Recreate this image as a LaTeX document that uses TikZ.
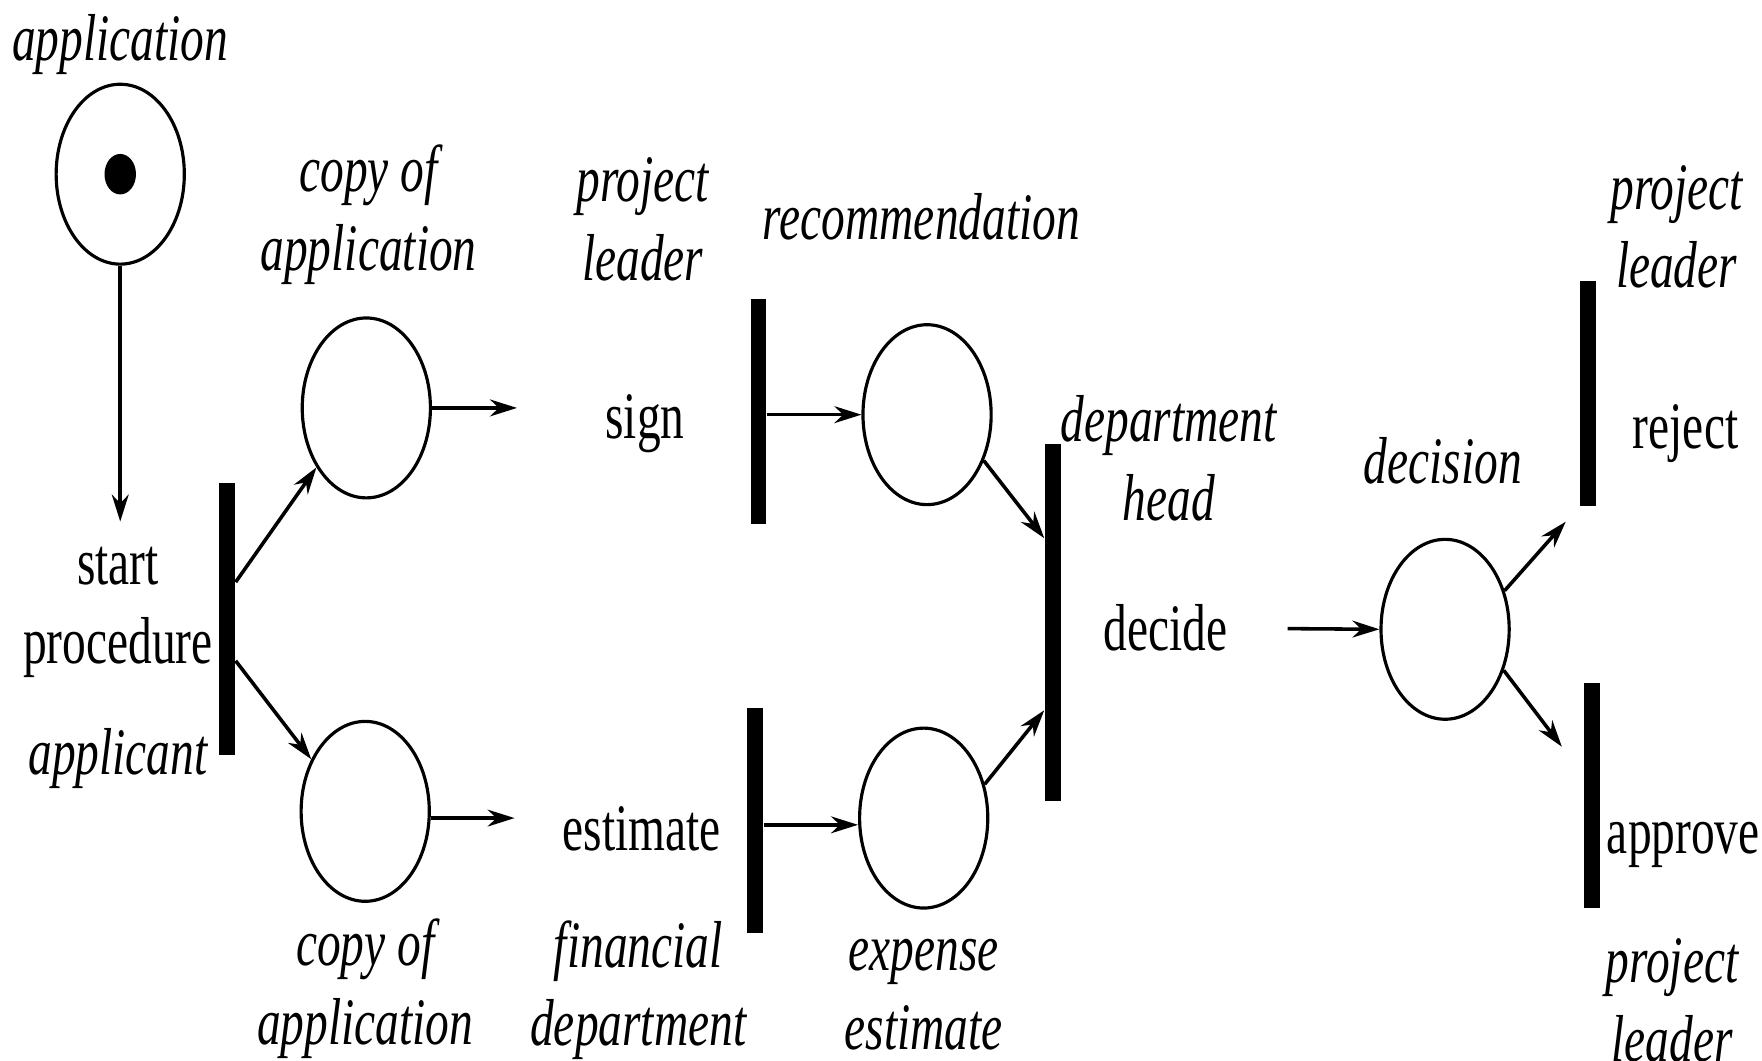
\documentclass[tikz,border=0pt]{standalone}
\usepackage{fontspec}
\setmainfont{Liberation Serif}
\usetikzlibrary{shapes.geometric,arrows.meta}
\tikzset{
  place/.style={draw, ellipse, line width=0.8pt, minimum width=1.14cm, minimum height=1.6cm, inner sep=0pt},
  token/.style={fill, ellipse, minimum width=2.8mm, minimum height=3.6mm, inner sep=0pt},
  tbar/.style={fill, rectangle, minimum width=1.4mm, minimum height=#1, inner sep=0pt},
  arc/.style={-{Stealth[length=2.4mm,width=1.5mm]}, line width=0.9pt},
  lab/.style={font=\fontsize{12}{14.2}\selectfont, align=center, inner sep=0pt, yscale=1.4},
  labi/.style={lab, font=\fontsize{12}{14.2}\selectfont\itshape},
}

\begin{document}
\begin{tikzpicture}[x=0.01cm, y=-0.01cm]
  \useasboundingbox (0,0) rectangle (1568,944);
  % places
  \node[place] (p0) at (107,155) {};
  \node[token] (tok) at (p0) {};
  \node[place] (p1) at (326,363) {};
  \node[place] (p2) at (325,722) {};
  \node[place] (p3) at (825,369) {};
  \node[place] (p4) at (822,728) {};
  \node[place] (p5) at (1286,560) {};
  % transitions
  \node[tbar=2.42cm] (t0) at (202,551) {};
  \node[tbar=2cm] (t1) at (675,366) {};
  \node[tbar=2cm] (t2) at (672,730) {};
  \node[tbar=3.17cm] (t3) at (937,554) {};
  \node[tbar=2cm] (t4) at (1413,350) {};
  \node[tbar=2cm] (t5) at (1417,708) {};
  % labels
  \node[labi] (lapp) at (107,40) {application};
  \node[lab] (start) at (105,545) {start\\procedure};
  \node[labi] (lapplicant) at (105,675) {applicant};
  \node[labi] (lcopy1) at (328,191) {copy of\\application};
  \node[labi] (lpl1) at (572,195) {project\\leader};
  \node[lab] (sign) at (574,377) {sign};
  \node[labi] (lrec) at (820,193) {recommendation};
  \node[labi] (lhead) at (1040,408) {department\\head};
  \node[lab] (decide) at (1037,559) {decide};
  \node[labi] (ldec) at (1284,410) {decision};
  \node[labi] (lpl2) at (1492,202) {project\\leader};
  \node[lab] (reject) at (1500,386) {reject};
  \node[lab] (approve) at (1498,752) {approve};
  \node[labi] (lpl3) at (1488,890) {project\\leader};
  \node[labi] (lcopy2) at (325,880) {copy of\\application};
  \node[lab] (estimate) at (571,738) {estimate};
  \node[labi] (lfin) at (568,881) {financial\\department};
  \node[labi] (lexp) at (822,885) {expense\\estimate};
  % arcs
  \draw[arc, shorten >=2.2mm] (p0) -- (p0 |- start.north);
  \draw[arc] ([yshift=3.3mm]t0.east) -- (p1.230);
  \draw[arc] ([yshift=-3.7mm]t0.east) -- (p2.136);
  \draw[arc, shorten >=7.8mm] (p1.east) -- (p1.east -| sign.west);
  \draw[arc, shorten >=4.2mm] ([yshift=-0.6mm]p2.east) -- ([yshift=-0.6mm]p2.east -| estimate.west);
  \draw[arc] (t1.east |- p3) -- (p3.west);
  \draw[arc] ([yshift=-0.4mm]t2.east) -- ([yshift=-0.4mm]t2.east -| p4.west);
  \draw[arc] (p3.321) -- ([yshift=7.5mm]t3.west);
  \draw[arc] (p4.29) -- ([yshift=-7.8mm]t3.west);
  \draw[arc, shorten <=5.3mm] (decide.east) -- (p5.west);
  \draw[arc, shorten >=1.8mm] (p5.33) -- (t4.south west);
  \draw[arc, shorten >=3.2mm] (p5.325) -- ([yshift=1.8mm]t5.west);
\end{tikzpicture}
\end{document}
